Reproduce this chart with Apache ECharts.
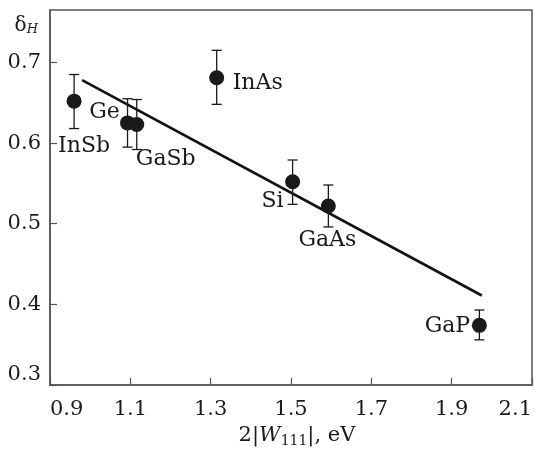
<!DOCTYPE html>
<html>
<head>
<meta charset="utf-8">
<script src="https://cdn.jsdelivr.net/npm/echarts@6/dist/echarts.min.js"></script>
<style>
  html, body { margin: 0; padding: 0; background: #fff; }
  #chart { width: 535px; height: 457px; }
</style>
</head>
<body>
<div id="chart"></div>
<script>
// materials and measured values
const materials = ['InSb', 'Ge', 'GaSb', 'InAs', 'Si', 'GaAs', 'GaP'];
const gapValues = [0.96, 1.093, 1.116, 1.315, 1.504, 1.593, 1.969];
const deltaH = [0.652, 0.625, 0.623, 0.681, 0.552, 0.522, 0.374];
const errLow = [0.618, 0.595, 0.592, 0.648, 0.524, 0.496, 0.356];
const errHigh = [0.685, 0.655, 0.654, 0.715, 0.579, 0.548, 0.393];

// fitted line end points
const fitX = [0.98, 1.975];
const fitY = [0.678, 0.411];

const xTicks = [0.9, 1.1, 1.3, 1.5, 1.7, 1.9, 2.1];
const yTicks = [0.3, 0.4, 0.5, 0.6, 0.7];

const FONT = 'DejaVu Serif';
const INK = '#1a1a1a';

// label offsets relative to each point (px)
const labelOffset = {
  InSb: [10, 45],
  Ge: [-23, -11],
  GaSb: [29, 35],
  InAs: [41, 6],
  Si: [-20, 20],
  GaAs: [-1, 34],
  GaP: [-32, 1]
};

const points = materials.map((m, i) => ({
  name: m,
  value: [gapValues[i], deltaH[i]],
  label: { offset: labelOffset[m] }
}));

const bars = materials.map((m, i) => [gapValues[i], errLow[i], errHigh[i]]);

const myChart = echarts.init(document.getElementById('chart'));
myChart.setOption({
  animation: false,
  grid: {
    left: 50,
    right: 2,
    top: 10,
    bottom: 72,
    show: true,
    borderColor: '#555',
    borderWidth: 1.5
  },
  xAxis: {
    type: 'value',
    min: 0.9,
    max: 2.1,
    interval: 0.2,
    name: '2|{it|W}{sub|111}|, eV',
    nameLocation: 'middle',
    nameGap: 30,
    nameTextStyle: {
      fontFamily: FONT,
      fontSize: 21,
      color: INK,
      padding: [0, 0, 0, 12],
      rich: {
        it: { fontFamily: FONT, fontStyle: 'italic', fontSize: 21, color: INK },
        sub: { fontFamily: FONT, fontSize: 14, color: INK, verticalAlign: 'bottom', padding: [12, 0, 0, 0] }
      }
    },
    axisLine: { lineStyle: { color: '#555', width: 1.5 } },
    axisTick: { inside: true, length: 7, lineStyle: { color: '#555', width: 1.2 } },
    axisLabel: {
      fontFamily: FONT,
      fontSize: 21,
      color: INK,
      margin: 14,
      alignMinLabel: 'left',
      alignMaxLabel: 'right',
      formatter: v => xTicks.some(t => Math.abs(t - v) < 1e-6) ? v.toFixed(1) : ''
    },
    splitLine: { show: false }
  },
  yAxis: {
    type: 'value',
    min: 0.3,
    max: 0.765,
    interval: 0.1,
    name: '{d|δ}{h|H}',
    nameLocation: 'end',
    nameGap: -16,
    nameTextStyle: {
      align: 'right',
      verticalAlign: 'middle',
      padding: [0, 12, 0, 0],
      rich: {
        d: { fontFamily: FONT, fontSize: 20, color: INK },
        h: { fontFamily: FONT, fontSize: 13, fontStyle: 'italic', color: INK, verticalAlign: 'bottom', padding: [8, 0, 0, 0] }
      }
    },
    axisLine: { lineStyle: { color: '#555', width: 1.5 } },
    axisTick: { inside: true, length: 7, lineStyle: { color: '#555', width: 1.2 } },
    axisLabel: {
      fontFamily: FONT,
      fontSize: 21,
      color: INK,
      margin: 9,
      showMaxLabel: false,
      verticalAlignMinLabel: 'bottom',
      formatter: v => yTicks.some(t => Math.abs(t - v) < 1e-6) ? v.toFixed(1) : ''
    },
    splitLine: { show: false }
  },
  series: [
    {
      type: 'line',
      data: fitX.map((x, i) => [x, fitY[i]]),
      symbol: 'none',
      lineStyle: { color: '#111', width: 2.6 },
      z: 3
    },
    {
      type: 'custom',
      data: bars,
      renderItem: (params, api) => {
        const x = api.value(0);
        const lo = api.coord([x, api.value(1)]);
        const hi = api.coord([x, api.value(2)]);
        const cap = 5;
        const style = { stroke: INK, lineWidth: 1.3 };
        return {
          type: 'group',
          children: [
            { type: 'line', shape: { x1: lo[0], y1: lo[1], x2: hi[0], y2: hi[1] }, style },
            { type: 'line', shape: { x1: lo[0] - cap, y1: lo[1], x2: lo[0] + cap, y2: lo[1] }, style },
            { type: 'line', shape: { x1: hi[0] - cap, y1: hi[1], x2: hi[0] + cap, y2: hi[1] }, style }
          ]
        };
      },
      z: 4
    },
    {
      type: 'scatter',
      data: points,
      symbolSize: 15,
      itemStyle: { color: INK, opacity: 1 },
      label: {
        show: true,
        position: 'inside',
        formatter: '{b}',
        fontFamily: FONT,
        fontSize: 22,
        color: INK,
        align: 'center',
        verticalAlign: 'middle'
      },
      z: 5
    }
  ]
});
</script>
</body>
</html>
